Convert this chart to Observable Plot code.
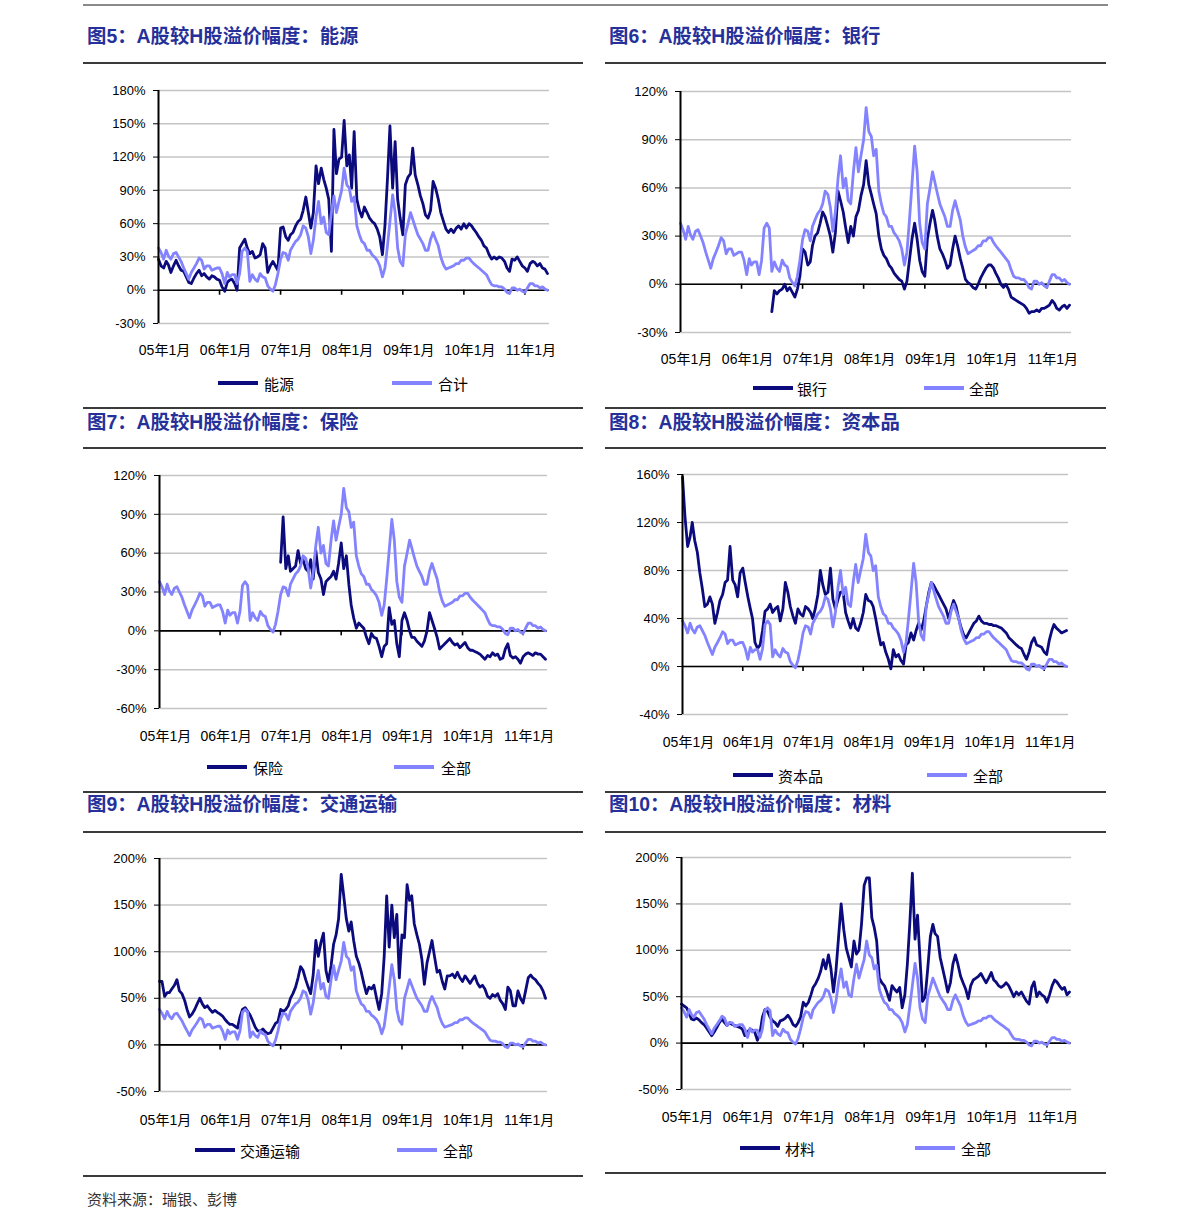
<!DOCTYPE html>
<html><head><meta charset="utf-8">
<script src="https://cdn.jsdelivr.net/npm/d3@7"></script>
<script src="https://cdn.jsdelivr.net/npm/@observablehq/plot@0.6"></script>
<style>
html,body{margin:0;padding:0;background:#fff;}
#page{position:relative;width:1190px;height:1227px;overflow:hidden;background:#fff;}
.hr{position:absolute;height:2px;background:#3a3a3a;}
.title{position:absolute;font-family:"Liberation Sans","Noto Sans CJK SC",sans-serif;font-weight:bold;font-size:19.4px;color:#26309a;line-height:1;white-space:nowrap;transform:translateY(-50%);}
.lgl{position:absolute;width:40px;height:4px;transform:translateY(-50%);}
.lgt{position:absolute;font-family:"Noto Sans CJK SC",sans-serif;font-size:15px;color:#000;line-height:1;transform:translateY(-50%);white-space:nowrap;}
.src{position:absolute;font-family:"Noto Sans CJK SC",sans-serif;font-size:15px;color:#333;line-height:1;transform:translateY(-50%);white-space:nowrap;}
.chart{position:absolute;}
</style></head>
<body><div id="page"></div>
<script>
// ---------- data ----------
const tickYears = [2005, 2006, 2007, 2008, 2009, 2010, 2011];
const tickLabels = ["05年1月", "06年1月", "07年1月", "08年1月", "09年1月", "10年1月", "11年1月"];

// semi-monthly observations, Jan 2005 .. mid-May 2011 (154 points)
const allMarket = [38,34,28,36,31,28,33,34,30,26, 20,15,10,16,20,24,29,27,19,22,
  22,18,19,20,20,15,6,16,12,14, 14,6,15,35,38,35,8,14,10,8,
  15,12,11,4,1,-1,5,15,28,34, 33,27,36,40,44,46,50,58,56,48,
  33,45,66,80,60,66,52,50,70,85, 70,80,90,110,95,92,80,84,58,50,
  44,42,36,36,32,30,27,22,12,20, 40,62,86,70,38,26,22,50,60,70,
  64,57,50,46,42,36,36,46,52,46, 40,30,23,19,20,21,22,24,24,27,
  27,29,29,26,24,22,20,18,16,14, 9,5,4,4,3,3,1,-2,-3,2,
  2,0,1,-1,-2,2,6,6,4,4, 2,3,1,0];

const energy = [28,22,20,26,23,16,22,27,22,18, 17,12,7,6,11,15,18,13,15,12,
  10,13,12,10,9,3,-1,7,9,10, 6,0,38,42,46,38,33,35,29,30,
  32,42,38,16,22,26,22,18,56,57, 48,45,50,52,58,62,64,72,84,70,
  56,70,112,96,110,100,92,82,35,145, 105,118,120,153,112,122,92,143,82,72,
  66,75,70,65,62,60,55,48,32,58, 100,148,92,134,82,65,50,95,102,105,
  128,104,95,85,78,68,65,72,98,92, 82,70,62,55,52,55,52,56,58,55,
  60,56,60,58,55,52,48,45,40,38, 32,28,30,28,30,29,26,20,17,28,
  27,30,26,22,20,17,24,26,25,22, 24,20,19,15];

const bank = [...Array(36).fill(null),
  -17,-4,-6,-4,-3,0,-4,-2,-5,-8, -3,5,22,20,12,14,24,30,32,38,
  45,42,36,30,20,32,58,52,45,35, 26,36,30,42,46,55,62,77,62,56,
  50,44,30,22,18,16,12,10,7,5, 3,2,-3,2,15,28,38,28,15,8,
  5,28,38,46,40,30,22,19,15,10, 12,22,30,24,16,10,3,1,0,-2,
  -3,0,4,7,10,12,12,10,7,4, 0,-2,0,-3,-8,-9,-10,-11,-12,-13,
  -15,-18,-17,-17,-16,-17,-15,-15,-14,-13, -10,-12,-15,-16,-14,-13,-15,-13];

const insurance = [...Array(48).fill(null),
  53,88,48,58,46,48,50,62,52,55, 48,46,55,40,62,45,40,28,38,40,
  42,46,40,52,68,48,58,36,20,10, 2,6,4,2,-5,-10,-2,-5,-6,-12,
  -20,-12,-10,18,5,8,-10,-20,8,14, 8,0,-5,-5,-8,-10,-12,-8,0,14,
  8,2,-5,-14,-12,-10,-8,-6,-9,-11, -10,-13,-11,-9,-13,-15,-15,-16,-17,-18,
  -20,-22,-19,-20,-17,-19,-18,-22,-21,-14, -10,-19,-21,-20,-22,-25,-20,-18,-17,-18,
  -19,-17,-18,-18,-20,-22];

const capitalGoods = [158,125,100,108,120,105,95,78,65,50, 52,58,52,36,45,55,60,70,72,100,
  72,68,58,78,82,70,58,48,40,20, 15,18,30,46,48,52,45,48,50,38,
  48,70,62,50,42,36,48,44,42,50, 48,45,40,48,60,80,68,60,62,82,
  56,48,56,62,62,45,38,32,40,32, 30,36,45,60,55,54,50,40,28,18,
  20,12,6,-2,14,8,10,5,2,18, 20,28,22,30,36,30,38,50,62,70,
  68,64,60,56,52,48,40,48,55,50, 40,32,26,24,28,32,36,38,42,38,
  36,36,35,35,34,34,33,32,30,28, 24,22,20,18,16,15,10,6,12,20,
  24,18,17,16,12,10,22,30,35,32, 30,28,29,30];

const transport = [68,68,52,56,56,60,64,70,58,55, 48,38,30,33,38,44,50,44,40,42,
  38,35,37,35,33,31,27,24,22,22, 20,18,30,38,40,36,32,26,19,15,
  15,17,14,12,13,18,23,25,38,36, 38,42,50,55,62,72,84,80,70,62,
  55,75,112,95,110,120,80,68,85,108, 118,135,183,160,135,122,132,112,95,88,
  78,66,55,62,60,64,50,38,55,95, 160,105,150,115,140,72,118,115,172,155,
  160,130,118,108,92,65,88,100,112,95, 78,80,68,60,74,74,76,72,78,72,
  68,74,70,66,70,74,66,62,64,60, 52,50,54,52,55,48,44,38,62,58,
  42,42,58,50,45,58,72,75,72,70, 66,63,58,50];

const materials = [42,40,38,32,26,25,27,25,22,20, 16,12,8,12,17,22,26,22,19,22,
  20,19,18,17,15,8,12,15,14,12, 3,10,28,36,34,28,24,22,18,24,
  25,27,30,26,20,18,22,28,44,40, 44,52,60,64,70,78,90,80,95,80,
  55,78,115,150,122,102,92,82,110,96, 100,128,170,178,178,135,125,110,70,65,
  62,55,46,62,58,55,60,38,52,85, 130,183,112,138,90,45,50,80,115,128,
  118,115,92,80,68,55,65,85,95,85, 72,65,58,48,62,68,70,72,75,70,
  65,70,76,68,66,62,60,62,65,62, 56,50,55,52,55,50,45,42,60,66,
  50,55,52,50,44,52,62,68,66,62, 58,60,52,55];

// ---------- layout / styles ----------
const DARK = "#0b0b7d";
const LIGHT = "#8383ff";
const dates = d3.range(allMarket.length).map(k =>
  new Date(Date.UTC(2005 + Math.floor(k / 24), Math.floor(k / 2) % 12, k % 2 ? 16 : 1)));
const xDomain = [new Date(Date.UTC(2005, 0, 1)), new Date(Date.UTC(2011, 4, 28))];
const yearDates = tickYears.map(y => new Date(Date.UTC(y, 0, 1)));
const labelByYear = new Map(tickYears.map((y, i) => [y, tickLabels[i]]));

const panels = [
  {title: "图5：A股较H股溢价幅度：能源", name: "能源", allName: "合计", values: energy,
   yTicks: [-30, 0, 30, 60, 90, 120, 150, 180], col: 83, axisX: 158, gridEnd: 549,
   yTop: 90, yBottom: 323, labelY: 350, legendY: 383, lg: [218, 264, 392, 438], titleY: 37},
  {title: "图6：A股较H股溢价幅度：银行", name: "银行", allName: "全部", values: bank,
   yTicks: [-30, 0, 30, 60, 90, 120], col: 605, axisX: 680, gridEnd: 1071,
   yTop: 91, yBottom: 332, labelY: 359, legendY: 388, lg: [753, 797, 924, 969], titleY: 37},
  {title: "图7：A股较H股溢价幅度：保险", name: "保险", allName: "全部", values: insurance,
   yTicks: [-60, -30, 0, 30, 60, 90, 120], col: 83, axisX: 159, gridEnd: 547,
   yTop: 475, yBottom: 708, labelY: 736, legendY: 767, lg: [207, 253, 394, 441], titleY: 423},
  {title: "图8：A股较H股溢价幅度：资本品", name: "资本品", allName: "全部", values: capitalGoods,
   yTicks: [-40, 0, 40, 80, 120, 160], col: 605, axisX: 682, gridEnd: 1068,
   yTop: 474, yBottom: 714, labelY: 742, legendY: 775, lg: [733, 778, 927, 973], titleY: 423},
  {title: "图9：A股较H股溢价幅度：交通运输", name: "交通运输", allName: "全部", values: transport,
   yTicks: [-50, 0, 50, 100, 150, 200], col: 83, axisX: 159, gridEnd: 547,
   yTop: 858, yBottom: 1091, labelY: 1120, legendY: 1150, lg: [195, 240, 397, 443], titleY: 805},
  {title: "图10：A股较H股溢价幅度：材料", name: "材料", allName: "全部", values: materials,
   yTicks: [-50, 0, 50, 100, 150, 200], col: 605, axisX: 681, gridEnd: 1071,
   yTop: 857, yBottom: 1089, labelY: 1117, legendY: 1148, lg: [740, 785, 915, 961], titleY: 805}
];

const page = document.getElementById("page");
function addDiv(cls, left, top, css, text) {
  const d = document.createElement("div");
  d.className = cls;
  d.style.left = left + "px";
  d.style.top = top + "px";
  if (css) Object.assign(d.style, css);
  if (text != null) d.textContent = text;
  page.appendChild(d);
  return d;
}

// horizontal rules
addDiv("hr", 83, 4, {width: "1025px", height: "1.5px", background: "#8a8a8a"});
for (const y of [62, 407, 447, 791, 831]) {
  addDiv("hr", 83, y, {width: "500px"});
  addDiv("hr", 605, y, {width: "501px"});
}
addDiv("hr", 83, 1175, {width: "500px"});
addDiv("hr", 605, 1172, {width: "501px"});
addDiv("src", 87, 1198, null, "资料来源：瑞银、彭博");

for (const p of panels) {
  addDiv("title", p.col + 4, p.titleY, null, p.title);
  addDiv("lgl", p.lg[0], p.legendY, {background: DARK});
  addDiv("lgt", p.lg[1], p.legendY, null, p.name);
  addDiv("lgl", p.lg[2], p.legendY, {background: LIGHT});
  addDiv("lgt", p.lg[3], p.legendY, null, p.allName);

  const rows = dates.map((date, i) => ({date, main: p.values[i], all: allMarket[i]}));
  const svgTop = p.yTop - 15;
  const height = p.labelY + 16 - svgTop;
  const chart = Plot.plot({
    width: 500,
    height,
    marginLeft: p.axisX - p.col,
    marginRight: p.col + 500 - p.gridEnd,
    marginTop: p.yTop - svgTop,
    marginBottom: svgTop + height - p.yBottom,
    x: {type: "utc", domain: xDomain, label: null},
    y: {domain: [p.yTicks[0], p.yTicks[p.yTicks.length - 1]], label: null},
    style: {fontFamily: '"Liberation Sans","Noto Sans CJK SC",sans-serif', fontSize: "13px", color: "#000", background: "transparent", overflow: "visible"},
    marks: [
      Plot.gridY(p.yTicks, {stroke: "#c4c4c4", strokeOpacity: 1, strokeWidth: 1.5}),
      Plot.ruleY([0], {stroke: "#000", strokeWidth: 1.6}),
      Plot.ruleX(yearDates.slice(1), {x: d => d, y1: () => 0, y2: () => 0, insetTop: 0, insetBottom: -5, stroke: "#000", strokeWidth: 1.6}),
      Plot.axisY(p.yTicks, {tickFormat: d => d + "%", tickSize: 5, tickPadding: 8, fontSize: 13, stroke: "#000"}),
      Plot.axisX(yearDates, {tickFormat: d => labelByYear.get(d.getUTCFullYear()), tickSize: 0, tickPadding: p.labelY - p.yBottom - 5, dx: 6, fontSize: 14}),
      Plot.line(rows, {x: "date", y: "main", stroke: DARK, strokeWidth: 2.8}),
      Plot.line(rows, {x: "date", y: "all", stroke: LIGHT, strokeWidth: 2.8}),
      Plot.ruleX([xDomain[0]], {stroke: "#000", strokeWidth: 2})
    ]
  });
  chart.classList.add("chart");
  chart.style.left = p.col + "px";
  chart.style.top = svgTop + "px";
  page.appendChild(chart);
}
</script>
</body></html>
